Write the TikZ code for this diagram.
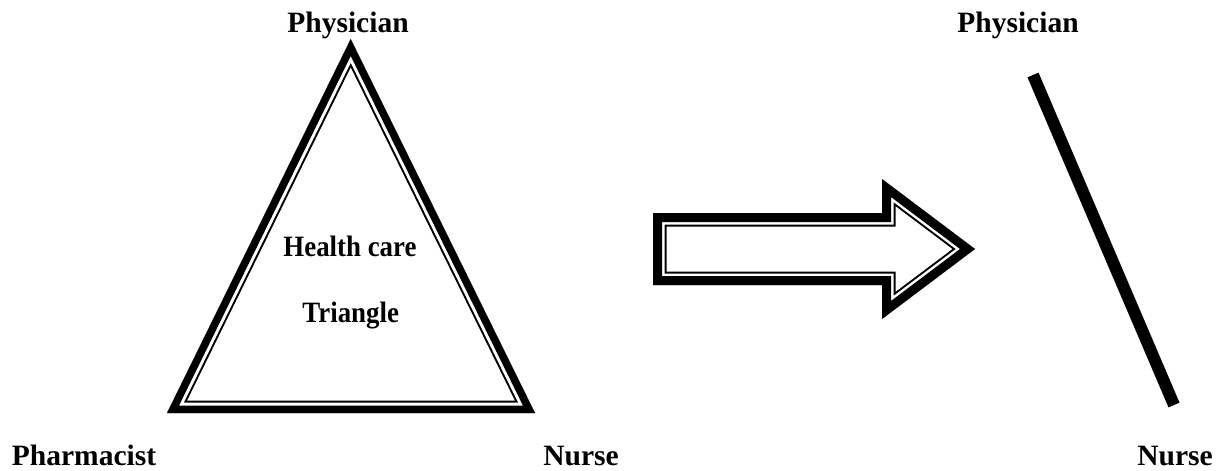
\documentclass[tikz,border=0pt]{standalone}
\usepackage{fontspec}
\setmainfont{Liberation Serif}
\newfontfamily\narrowserif[FakeStretch=0.91]{Liberation Serif}
\usetikzlibrary{positioning, calc}

\begin{document}
\begin{tikzpicture}[
      role/.style={font=\bfseries\fontsize{8.4}{10}\selectfont, anchor=base, inner sep=0pt},
      inner/.style={font=\narrowserif\bfseries\fontsize{8.4}{10}\selectfont, anchor=base, inner sep=0pt},
      broken/.style={line width=0.12cm, black}
    ]
      \useasboundingbox (0,0) rectangle (12.24,4.70);

      % triangle corners
      \coordinate (apex) at (3.507, 4.31);
      \coordinate (bl) at (1.67, 0.57);
      \coordinate (br) at (5.35, 0.57);

      % framed triangle: thick outer, white gap, thin inner
      \begin{scope}
        \clip (apex) -- (bl) -- (br) -- cycle;
        \foreach \lw/\col in {0.25cm/black, 0.21cm/white, 0.15cm/black}
          \draw[line width=\lw, \col, line join=miter] (apex) -- (bl) -- (br) -- cycle;
      \end{scope}

      \node[role] (Ph) at (3.48, 4.38) {Physician};
      \node[role] (Pa) at (0.84, 0.05) {Pharmacist};
      \node[role] (Nu) at (5.81, 0.05) {Nurse};
      \node[inner] (HC) at (3.50, 2.14) {Health care};
      \node[inner] (Tr) at (3.507, 1.48) {Triangle};

      % block arrow
      \coordinate (a1) at (6.53, 2.57);
      \coordinate (a2) at (8.82, 2.57);
      \coordinate (a3) at (8.82, 2.91);
      \coordinate (a4) at (9.75, 2.21);
      \coordinate (a5) at (8.82, 1.51);
      \coordinate (a6) at (8.82, 1.85);
      \coordinate (a7) at (6.53, 1.85);
      \begin{scope}
        \clip (a1) -- (a2) -- (a3) -- (a4) -- (a5) -- (a6) -- (a7) -- cycle;
        \foreach \lw/\col in {0.27cm/black, 0.23cm/white, 0.18cm/black}
          \draw[line width=\lw, \col, line join=miter]
            (a1) -- (a2) -- (a3) -- (a4) -- (a5) -- (a6) -- (a7) -- cycle;
      \end{scope}

      % what is left of the triangle
      \node[role] (Ph2) at (10.18, 4.38) {Physician};
      \node[role] (Nu2) at (11.75, 0.05) {Nurse};
      \coordinate (top) at (10.33, 3.95);
      \coordinate (bot) at (11.74, 0.65);
      \draw[broken] (top) -- (bot);
    \end{tikzpicture}
\end{document}
